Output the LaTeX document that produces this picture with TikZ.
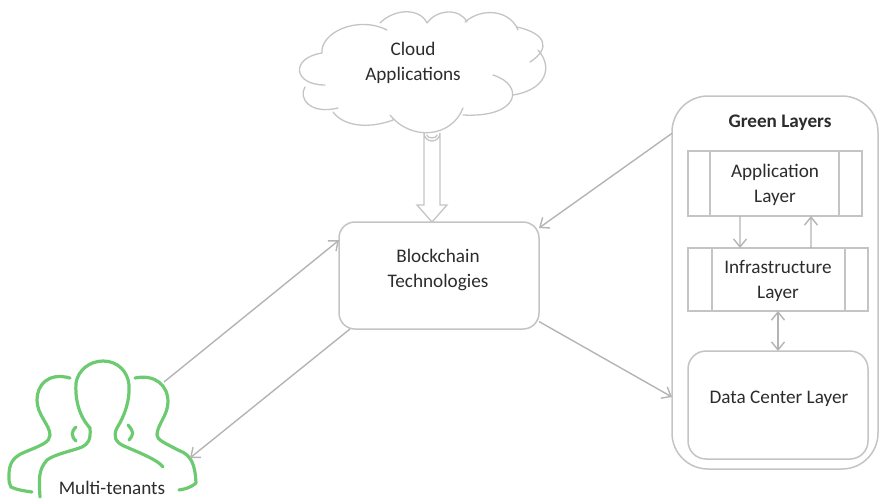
\documentclass[tikz,border=0pt]{standalone}
\usepackage{fontspec}
\setmainfont{Carlito}
\usetikzlibrary{arrows.meta,calc}
\definecolor{lin}{HTML}{B4B4B4}
\definecolor{boxl}{HTML}{C4C4C4}
\definecolor{txt}{HTML}{2C2C2C}
\definecolor{grn}{HTML}{6CCB70}
\tikzset{
  x=1pt,y=-1pt,
  box/.style={draw=boxl,line width=1.5pt,fill=white,inner sep=0pt,outer sep=0pt},
  rbox/.style={box,rounded corners=#1},
  lab/.style={text=txt,font=\fontsize{19.2}{25}\selectfont,align=center,inner sep=0pt},
  conn/.style={draw=lin,line width=1.4pt,-{Straight Barb[length=8pt,width=13pt,line width=1.4pt]}},
  biconn/.style={draw=lin,line width=1.4pt,{Straight Barb[length=8pt,width=13pt,line width=1.4pt]}-{Straight Barb[length=8pt,width=13pt,line width=1.4pt]}},
  cloudline/.style={draw=boxl,line width=1.3pt,line cap=round},
  person/.style={draw=grn,line width=3.2pt,line cap=round,line join=round},
}
\begin{document}
\begin{tikzpicture}
\useasboundingbox (0,0) rectangle (879,499);
% cloud
\draw[cloudline]
 (322,53) .. controls (320,33) and (357,15) .. (387,30)
 (380,23) .. controls (395,8) and (420,8) .. (427,23)
 (427,23) .. controls (437,9) and (460,8) .. (467,22)
 (465,22) .. controls (482,7) and (510,10) .. (518,30)
 (517,27) .. controls (545,33) and (552,48) .. (530,62)
 (538,50) .. controls (554,68) and (545,90) .. (513,95)
 (493,75) .. controls (525,85) and (520,118) .. (463,115)
 (463,108) .. controls (452,137) and (412,142) .. (390,115)
 (393,120) .. controls (372,128) and (345,128) .. (333,112)
 (338,108) .. controls (310,115) and (298,98) .. (305,87)
 (325,85) .. controls (293,85) and (290,58) .. (322,53);
\node[lab] (cloud) at (413,62.5) {Cloud\\Applications};
% boxes
\node[rbox=16pt,minimum width=200pt,minimum height=107pt] (bc) at (439,275.5) {};
\node[lab] (bclab) at (438,269.5) {Blockchain\\Technologies};
\node[rbox=36pt,minimum width=206pt,minimum height=373pt] (green) at (775,282.5) {};
\node[lab,font=\fontsize{19.2}{25}\selectfont\bfseries] (greenlab) at (780,122.5) {Green Layers};
\node[box,minimum width=174pt,minimum height=65pt] (app) at (775,183.5) {};
\node[box,minimum width=180pt,minimum height=63pt] (infra) at (778,279.5) {};
\node[rbox=18pt,minimum width=180pt,minimum height=108pt] (data) at (778,405) {};
\draw[box] ($(app.north west)!.126!(app.north east)$) -- ($(app.south west)!.126!(app.south east)$);
\draw[box] ($(app.north west)!.868!(app.north east)$) -- ($(app.south west)!.868!(app.south east)$);
\draw[box] ($(infra.north west)!.133!(infra.north east)$) -- ($(infra.south west)!.133!(infra.south east)$);
\draw[box] ($(infra.north west)!.872!(infra.north east)$) -- ($(infra.south west)!.872!(infra.south east)$);
\node[lab] (applab) at (775,184.5) {Application\\Layer};
\node[lab] (infralab) at (778,280.5) {Infrastructure\\Layer};
\node[lab] (datalab) at (779,399) {Data Center Layer};
% layer connectors
\draw[conn] ($(app.south west)!.299!(app.south east)$) -- ($(infra.north west)!.289!(infra.north east)$);
\draw[conn] ($(infra.north west)!.683!(infra.north east)$) -- ($(app.south west)!.707!(app.south east)$);
\draw[biconn] (infra.south) -- (data.north);
% hollow arrow
\coordinate (tip) at ($(bc.north west)!.465!(bc.north east)$);
\draw[cloudline,line join=miter] (tip) -- ++(-15,-17) -- ++(7,0) -- ++(0,-72)
  arc[start angle=180,end angle=0,radius=8] -- ++(0,72) -- ++(7,0) -- cycle;
\draw[cloudline] (tip) ++(-5,-87) arc[start angle=180,end angle=0,x radius=5,y radius=3];
% people
\draw[person] (40,497) .. controls (39,480) and (38,470) .. (47,460)
  .. controls (55,454) and (72,451) .. (82,447)
  .. controls (88,444) and (91,440) .. (90,428)
  .. controls (78,415) and (75,397) .. (76,383)
  .. controls (78,370) and (90,361) .. (103,361)
  .. controls (118,361) and (128,372) .. (129,385)
  .. controls (130,400) and (125,415) .. (117,428)
  .. controls (113,436) and (115,442) .. (124,446)
  .. controls (140,453) and (158,460) .. (163,467);
\draw[person] (70,378) .. controls (48,372) and (37,385) .. (37,400)
  .. controls (37,415) and (50,425) .. (50,435)
  .. controls (50,442) and (42,445) .. (25,452)
  .. controls (12,457) and (9,465) .. (9,475)
  .. controls (9,482) and (9,484) .. (11,487)
  .. controls (17,490) and (25,491) .. (32,492);
\draw[person] (135,378) .. controls (155,374) and (168,385) .. (168,402)
  .. controls (168,415) and (157,425) .. (157,435)
  .. controls (157,440) and (165,443) .. (178,450)
  .. controls (192,455) and (195,465) .. (196,483)
  .. controls (190,488) and (185,489) .. (179,490);
\draw[person] (76,427) .. controls (71,432) and (71,436) .. (76,441);
\draw[person] (128,425) .. controls (134,432) and (134,434) .. (129,440);
\node[lab] (tenants) at (112,487.5) {Multi-tenants};
\coordinate (tenantsout) at (164,382);
\coordinate (tenantsin) at (190,458);
% main connectors
\draw[conn] (tenantsout) -- ($(bc.north west)!.17!(bc.south west)$);
\draw[conn] ($(bc.south west)!.055!(bc.south east)$) -- (tenantsin);
\draw[conn] ($(green.north west)!.1!(green.south west)$) -- ($(bc.north east)!.056!(bc.south east)$);
\draw[conn] ($(bc.north east)!.93!(bc.south east)$) -- ($(green.north west)!.807!(green.south west)$);
\end{tikzpicture}
\end{document}
